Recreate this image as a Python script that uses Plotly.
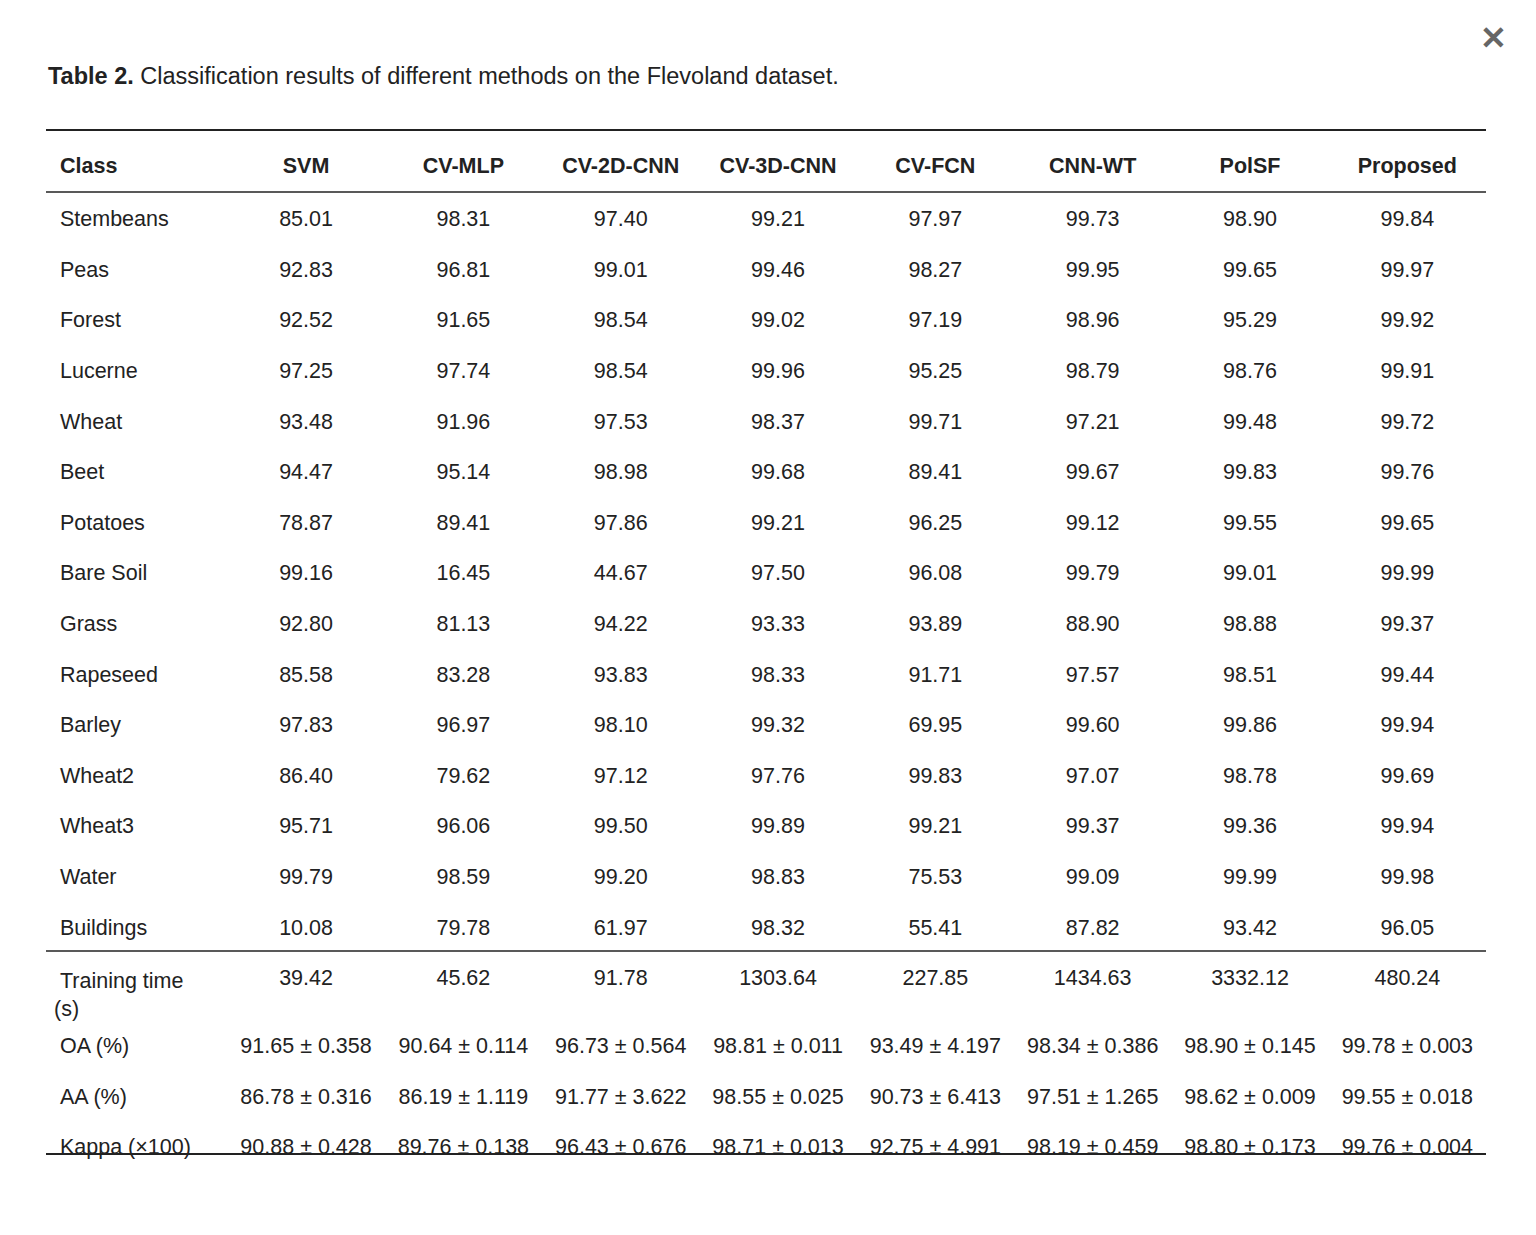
import plotly.graph_objects as go

# page adds an 8px body margin, so the figure is 16px smaller and coordinates are shifted by 8
OFF = 8
W, H = 1536 - 2 * OFF, 1235 - 2 * OFF

headers = ["Class", "SVM", "CV-MLP", "CV-2D-CNN", "CV-3D-CNN", "CV-FCN", "CNN-WT", "PolSF", "Proposed"]

classes = ["Stembeans", "Peas", "Forest", "Lucerne", "Wheat", "Beet", "Potatoes", "Bare Soil",
           "Grass", "Rapeseed", "Barley", "Wheat2", "Wheat3", "Water", "Buildings",
           "Training time (s)", "OA (%)", "AA (%)", "Kappa (×100)"]

svm = ["85.01", "92.83", "92.52", "97.25", "93.48", "94.47", "78.87", "99.16", "92.80", "85.58",
       "97.83", "86.40", "95.71", "99.79", "10.08", "39.42",
       "91.65 ± 0.358", "86.78 ± 0.316", "90.88 ± 0.428"]
cv_mlp = ["98.31", "96.81", "91.65", "97.74", "91.96", "95.14", "89.41", "16.45", "81.13", "83.28",
          "96.97", "79.62", "96.06", "98.59", "79.78", "45.62",
          "90.64 ± 0.114", "86.19 ± 1.119", "89.76 ± 0.138"]
cv_2d = ["97.40", "99.01", "98.54", "98.54", "97.53", "98.98", "97.86", "44.67", "94.22", "93.83",
         "98.10", "97.12", "99.50", "99.20", "61.97", "91.78",
         "96.73 ± 0.564", "91.77 ± 3.622", "96.43 ± 0.676"]
cv_3d = ["99.21", "99.46", "99.02", "99.96", "98.37", "99.68", "99.21", "97.50", "93.33", "98.33",
         "99.32", "97.76", "99.89", "98.83", "98.32", "1303.64",
         "98.81 ± 0.011", "98.55 ± 0.025", "98.71 ± 0.013"]
cv_fcn = ["97.97", "98.27", "97.19", "95.25", "99.71", "89.41", "96.25", "96.08", "93.89", "91.71",
          "69.95", "99.83", "99.21", "75.53", "55.41", "227.85",
          "93.49 ± 4.197", "90.73 ± 6.413", "92.75 ± 4.991"]
cnn_wt = ["99.73", "99.95", "98.96", "98.79", "97.21", "99.67", "99.12", "99.79", "88.90", "97.57",
          "99.60", "97.07", "99.37", "99.09", "87.82", "1434.63",
          "98.34 ± 0.386", "97.51 ± 1.265", "98.19 ± 0.459"]
polsf = ["98.90", "99.65", "95.29", "98.76", "99.48", "99.83", "99.55", "99.01", "98.88", "98.51",
         "99.86", "98.78", "99.36", "99.99", "93.42", "3332.12",
         "98.90 ± 0.145", "98.62 ± 0.009", "98.80 ± 0.173"]
proposed = ["99.84", "99.97", "99.92", "99.91", "99.72", "99.76", "99.65", "99.99", "99.37", "99.44",
            "99.94", "99.69", "99.94", "99.98", "96.05", "480.24",
            "99.78 ± 0.003", "99.55 ± 0.018", "99.76 ± 0.004"]

FONT = "Liberation Sans, Arial, sans-serif"
x0, x1 = 46 - OFF, 1486 - OFF
top = 146 - OFF
pad = "\u00a0"

fig = go.Figure(go.Table(
    domain=dict(x=[x0 / W, x1 / W], y=[0, 1 - top / H]),
    columnwidth=[181] + [157] * 8,
    header=dict(
        values=[pad + "<b>Class</b>"] + ["<b>%s</b>" % h for h in headers[1:]],
        align=["left"] + ["center"] * 8,
        height=56,
        font=dict(family=FONT, size=21.5, color="#222"),
        fill_color="white",
        line=dict(color="white", width=0),
    ),
    cells=dict(
        values=[[pad + c for c in classes], svm, cv_mlp, cv_2d, cv_3d, cv_fcn, cnn_wt, polsf, proposed],
        align=["left"] + ["center"] * 8,
        height=50.6,
        font=dict(family=FONT, size=21.5, color="#222"),
        fill_color="white",
        line=dict(color="white", width=0),
    ),
))

def hline(py, w):
    py -= OFF
    fig.add_shape(type="line", xref="paper", yref="paper",
                  x0=x0 / W, x1=x1 / W, y0=1 - py / H, y1=1 - py / H,
                  line=dict(color="#222", width=w))

hline(130, 2)
hline(192, 1.5)
hline(951, 1.5)
hline(1154, 2)

fig.add_annotation(x=x0 / W, y=1 - (76 - OFF) / H, xref="paper", yref="paper",
                   xanchor="left", yanchor="middle", showarrow=False,
                   text="<b>Table 2.</b> Classification results of different methods on the Flevoland dataset.",
                   font=dict(family=FONT, size=23.5, color="#222"))
fig.add_annotation(x=(1493 - OFF) / W, y=1 - (38 - OFF) / H, xref="paper", yref="paper",
                   xanchor="center", yanchor="middle",
                   showarrow=False, text="<b>✕</b>",
                   font=dict(family=FONT, size=32, color="#666"))

fig.update_layout(width=W, height=H, margin=dict(l=0, r=0, t=0, b=0),
                  paper_bgcolor="white", plot_bgcolor="white")

fig.write_html("out.html")
